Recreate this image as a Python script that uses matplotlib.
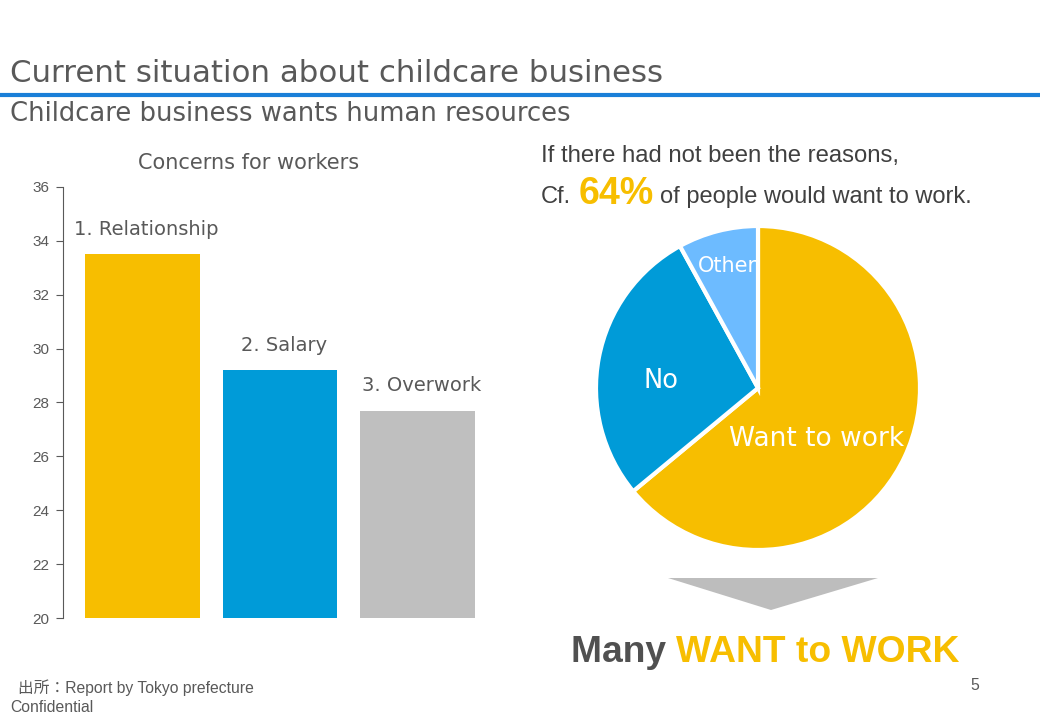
import matplotlib
matplotlib.use("Agg")
import matplotlib.pyplot as plt
from matplotlib.patches import Polygon
import numpy as np

# ---- data ----
bar_labels = ["1. Relationship", "2. Salary", "3. Overwork"]
bar_values = [33.5, 29.2, 27.7]
y_ticks = [20, 22, 24, 26, 28, 30, 32, 34, 36]

pie_labels = ["Want to work", "No", "Other"]
pie_values = [64, 28, 8]

YELLOW = "#F7BE00"
BLUE = "#009BD8"
LBLUE = "#6DBBFF"
GRAY = "#BFBFBF"
TXT = "#595959"

bar_colors = [YELLOW, BLUE, GRAY]
pie_colors = [YELLOW, BLUE, LBLUE]

W, H = 1040, 720
fig = plt.figure(figsize=(W / 100, H / 100), dpi=100)
fig.patch.set_facecolor("white")

def fx(x):
    return x / W

def fy(y):
    return 1 - y / H

# ---- header ----
fig.text(fx(10), fy(73), "Current situation about childcare business", fontsize=22.2,
         color=TXT, va="center", ha="left", family="DejaVu Sans")
fig.add_artist(plt.Line2D([0, 1], [fy(95), fy(95)], color="#1A7FD8", lw=3))
fig.text(fx(10), fy(114), "Childcare business wants human resources", fontsize=18.6,
         color=TXT, va="center", ha="left", family="DejaVu Sans")

# ---- bar chart ----
ax = fig.add_axes([fx(63), fy(618), fx(497) - fx(63), fy(187) - fy(618)])
x = np.arange(len(bar_values))
ax.bar(x, bar_values, width=0.836, color=bar_colors, bottom=0)
ax.set_ylim(20, 36)
ax.set_xlim(-0.578, 2.578)
ax.set_yticks(y_ticks)
ax.set_yticklabels([str(t) for t in y_ticks], fontsize=11, color=TXT, family="Liberation Sans")
ax.tick_params(axis="y", length=5, color=TXT, pad=5)
ax.set_xticks([])
for s in ["top", "right", "bottom"]:
    ax.spines[s].set_visible(False)
ax.spines["left"].set_color(TXT)
for xi, v, lab in zip(x, bar_values, bar_labels):
    ax.annotate(lab, (xi, v), xytext=(3, 11), textcoords="offset points",
                ha="center", va="bottom", fontsize=14, color=TXT, family="DejaVu Sans")
fig.text(fx(249), fy(163), "Concerns for workers", fontsize=15, color=TXT,
         ha="center", va="center", family="DejaVu Sans")

# ---- right texts ----
fig.text(fx(541), fy(156), "If there had not been the reasons,", fontsize=17.2,
         color="#404040", ha="left", va="center", family="Liberation Sans")
fig.canvas.draw()
r = fig.canvas.get_renderer()
t_cf = fig.text(fx(541), fy(197), "Cf.", fontsize=17, color="#404040", ha="left", va="center",
                family="Liberation Sans")
fig.text(fx(579), fy(194), "64%", fontsize=27, color=YELLOW, fontweight="bold",
         ha="left", va="center", family="Liberation Sans")
fig.text(fx(660), fy(197), "of people would want to work.", fontsize=17, color="#404040",
         ha="left", va="center", family="Liberation Sans")

# ---- pie ----
pax = fig.add_axes([fx(596), fy(550), fx(920) - fx(596), fy(226) - fy(550)])
pax.pie(pie_values, colors=pie_colors, startangle=90, counterclock=False,
        wedgeprops=dict(edgecolor="white", linewidth=3), radius=1.0)
pax.set_xlim(-1, 1)
pax.set_ylim(-1, 1)
pax.set_aspect("equal")
pax.axis("off")
label_pos = [(0.364, -0.315), (-0.60, 0.043), (-0.19, 0.75)]
label_size = [19, 18.5, 15]
for (lx, ly), lab, fs in zip(label_pos, pie_labels, label_size):
    pax.text(lx, ly, lab, color="white", fontsize=fs, ha="center", va="center",
             family="DejaVu Sans")

# ---- arrow ----
fig.add_artist(Polygon([[fx(668), fy(578)], [fx(878), fy(578)], [fx(771), fy(610)]],
                       closed=True, facecolor="#BDBDBD", edgecolor="none",
                       transform=fig.transFigure))

# ---- conclusion ----
t1 = fig.text(fx(571), fy(652), "Many ", fontsize=26.8, fontweight="bold", color="#505050",
              ha="left", va="center", family="Liberation Sans")
fig.canvas.draw()
bb = t1.get_window_extent()
fig.text(bb.x1 / W, fy(652), "WANT to WORK", fontsize=26.8, fontweight="bold", color=YELLOW,
         ha="left", va="center", family="Liberation Sans")

# ---- footer ----
fig.text(fx(18), fy(688), "出所：Report by Tokyo prefecture", fontsize=11.3, color=TXT,
         ha="left", va="center", family=["Liberation Sans", "Noto Sans CJK JP"])
fig.text(fx(10), fy(707), "Confidential", fontsize=11.3, color=TXT, ha="left", va="center",
         family="Liberation Sans")
fig.text(fx(975), fy(686), "5", fontsize=11.3, color=TXT, ha="center", va="center",
         family="Liberation Sans")

fig.savefig("out.png", dpi=100, facecolor="white")
